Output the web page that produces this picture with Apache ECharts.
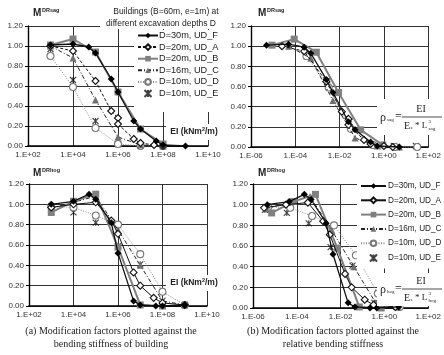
<!DOCTYPE html>
<html><head><meta charset="utf-8">
<script src="https://cdn.jsdelivr.net/npm/echarts@6/dist/echarts.min.js"></script>
<style>html,body{margin:0;padding:0;background:#fff}#c{width:444px;height:355px}</style>
</head><body><div id="c"></div>
<script>
// ---- data ----
const NAMES = ['D=30m, UD_F','D=20m, UD_A','D=20m, UD_B','D=16m, UD_C','D=10m, UD_D','D=10m, UD_E'];
const X_TICKS_EI = ['1.E+02','1.E+04','1.E+06','1.E+08','1.E+10'];
const X_TICKS_RHO = ['1.E-06','1.E-04','1.E-02','1.E+00','1.E+02'];
const Y_TICKS = ['0.00','0.20','0.40','0.60','0.80','1.00','1.20'];

// UD_F
const EI_F = [1e3,1e4,5e4,1e5,5e5,1e6,5e6,1e7,5e7,1e8,1e9];
const SAG_F = [1.01,1.02,0.99,0.93,0.67,0.54,0.25,0.17,0.05,0.01,0.00];
const HOG_F = [1.00,1.03,1.10,1.05,0.82,0.52,0.05,0.01,0.00,0.00,0.01];
const RHO_SAG_F = [5.0e-6,5.0e-5,2.5e-4,5.0e-4,2.5e-3,5.0e-3,2.5e-2,5.0e-2,0.25,0.5,5.0];
const RHO_HOG_F = [4.5e-6,4.5e-5,2.2e-4,4.5e-4,2.2e-3,4.5e-3,2.2e-2,4.5e-2,0.22,0.45,4.5];
// UD_A
const EI_SAG_A = [1e3,1e4,1e5,5e5,1e6,1e6,5e6,1e7,4e7,1e8];
const SAG_A = [1.00,0.95,0.65,0.35,0.28,0.22,0.07,0.03,0.01,0.00];
const RHO_SAG_A = [2.5e-5,2.5e-4,2.5e-3,1.26e-2,2.5e-2,2.5e-2,0.126,0.25,1.0,2.5];
const EI_HOG_A = [1e3,1e4,1e5,5e5,1e6,5e6,1e7,4e7,1e8,1e9];
const HOG_A = [0.97,1.00,1.02,0.84,0.71,0.33,0.20,0.08,0.03,0.01];
const RHO_HOG_A = [3.2e-6,3.2e-5,3.2e-4,1.6e-3,3.2e-3,1.6e-2,3.2e-2,0.126,0.32,3.2];
// UD_B
const EI_B = [1e3,1e4,1e5,1e6,1e7,1e8];
const SAG_B = [1.01,1.07,0.94,0.54,0.17,0.02];
const HOG_B = [0.92,1.03,1.10,0.58,0.01,0.00];
const RHO_SAG_B = [8.9e-6,8.9e-5,8.9e-4,8.9e-3,8.9e-2,0.89];
const RHO_HOG_B = [7.1e-6,7.1e-5,7.1e-4,7.1e-3,7.1e-2,0.71];
// UD_C
const EI_SAG_C = [1e3,1e4,1e5,1e6,1e7,1e8];
const SAG_C = [1.00,0.88,0.46,0.09,0.01,0.00];
const RHO_SAG_C = [5.0e-5,5.0e-4,5.0e-3,5.0e-2,0.5,5.0];
const EI_HOG_C = [1e3,1e4,1e5,1e6,1e7,1e8,1e9];
const HOG_C = [0.96,1.02,1.08,0.75,0.40,0.05,0.01];
const RHO_HOG_C = [4.0e-6,4.0e-5,4.0e-4,4.0e-3,4.0e-2,0.4,4.0];
// UD_D
const EI_SAG_D = [1e3,1e4,1e5,1e6,1e7,1e8];
const SAG_D = [0.90,0.59,0.18,0.02,0.00,0.00];
const RHO_SAG_D = [3.2e-4,3.2e-3,3.2e-2,0.32,3.2,32];
const EI_HOG_D = [1e3,1e4,1e5,1e6,1e7,1e8,1e9];
const HOG_D = [0.98,0.97,0.89,0.80,0.51,0.14,0.01];
const RHO_HOG_D = [5.0e-6,5.0e-5,5.0e-4,5.0e-3,5.0e-2,0.5,5.0];
// UD_E
const EI_SAG_E = [1e3,1e4,1e5,1e6,1e7,1e8];
const SAG_E = [0.97,0.66,0.25,0.02,0.01,0.01];
const RHO_SAG_E = [2.8e-4,2.8e-3,2.8e-2,0.28,2.8,28];
const EI_HOG_E = [1e3,1e4,1e5,1e6,1e7,1e8,1e9];
const HOG_E = [0.95,0.92,0.82,0.59,0.41,0.05,0.01];
const RHO_HOG_E = [3.5e-6,3.5e-5,3.5e-4,3.5e-3,3.5e-2,0.35,3.5];

// ---- build ----
const FONT = 'Liberation Sans, Arial, sans-serif';
const SERIF = 'Liberation Serif, Times New Roman, serif';
const zip = (xs, ys) => xs.map((x, i) => [x, ys[i]]);
const STAR = 'path://M0,0L10,10M10,0L0,10M5,0L5,10';

function styleFor(idx, bottom) {
  switch (idx) {
    case 0: return {type:'line', symbol:'diamond', symbolSize:7, lineStyle:{color:'#111', width:1.3},
                    itemStyle:{color:'#000', borderColor:'#000', borderWidth:0}};
    case 1: return {type:'line', symbol:'diamond', symbolSize:7, lineStyle:{color:'#111', width:1, type: bottom ? 'solid' : [3,2]},
                    itemStyle:{color:'#fff', borderColor:'#111', borderWidth:1.1}};
    case 2: return {type:'line', symbol:'rect', symbolSize:7, lineStyle:{color:'#808080', width:2},
                    itemStyle:{color:'#808080', borderColor:'#808080', borderWidth:0}};
    case 3: return {type:'line', symbol:'triangle', symbolSize:7, lineStyle:{color:'#222', width:1, type:[4,2,1,2]},
                    itemStyle:{color:'#707070', borderColor:'#707070', borderWidth:0}};
    case 4: return {type:'line', symbol:'circle', symbolSize:7, lineStyle:{color:'#888', width:1, type:[1,1.5]},
                    itemStyle:{color:'#fff', borderColor:'#777', borderWidth:1.1}};
    default: return {type:'scatter', symbol:STAR, symbolSize:6,
                    itemStyle:{color:'#000', borderColor:'#111', borderWidth:1.1}};
  }
}

const plots = [
  [zip(EI_F,SAG_F), zip(EI_SAG_A,SAG_A), zip(EI_B,SAG_B), zip(EI_SAG_C,SAG_C), zip(EI_SAG_D,SAG_D), zip(EI_SAG_E,SAG_E)],
  [zip(RHO_SAG_F,SAG_F), zip(RHO_SAG_A,SAG_A), zip(RHO_SAG_B,SAG_B), zip(RHO_SAG_C,SAG_C), zip(RHO_SAG_D,SAG_D), zip(RHO_SAG_E,SAG_E)],
  [zip(EI_F,HOG_F), zip(EI_HOG_A,HOG_A), zip(EI_B,HOG_B), zip(EI_HOG_C,HOG_C), zip(EI_HOG_D,HOG_D), zip(EI_HOG_E,HOG_E)],
  [zip(RHO_HOG_F,HOG_F), zip(RHO_HOG_A,HOG_A), zip(RHO_HOG_B,HOG_B), zip(RHO_HOG_C,HOG_C), zip(RHO_HOG_D,HOG_D), zip(RHO_HOG_E,HOG_E)]
];

const series = [];
plots.forEach((arr, g) => {
  arr.forEach((data, i) => {
    series.push(Object.assign({name: NAMES[i], xAxisIndex: g, yAxisIndex: g, data, z: 3 + (5 - i),
      animation:false, silent:true, clip:false}, styleFor(i, g >= 2)));
  });
});

const grids = [
  {left:28, top:26, width:180, height:120},
  {left:251, top:26, width:183, height:121},
  {left:29, top:184, width:178, height:122},
  {left:253, top:184, width:180, height:124}
];

function xLab(v) {
  const e = Math.round(Math.log10(v));
  const s = e < 0 ? '-' : '+';
  const a = Math.abs(e);
  return '1.E' + s + (a < 10 ? '0' + a : '' + a);
}

const xAxes = grids.map((g, i) => {
  const rho = (i % 2 === 1);
  const ticks = rho ? X_TICKS_RHO : X_TICKS_EI;
  return {
    type:'log', logBase:10, gridIndex:i,
    min: rho ? 1e-6 : 1e2, max: rho ? 1e2 : 1e10, splitNumber:4, interval:2,
    axisLine:{show:true, onZero:false, lineStyle:{color:'#000', width:1.6}},
    axisTick:{show:false},
    minorTick:{show:false},
    splitLine:{show:true, lineStyle:{color:'#333', width:1}},
    axisLabel:{fontSize:8, color:'#333', fontFamily:FONT, margin:5, showMaxLabel:true, showMinLabel:true,
      formatter: v => { const t = xLab(v); return ticks.indexOf(t) >= 0 ? t : ''; }}
  };
});

const yAxes = grids.map((g, i) => ({
  type:'value', gridIndex:i, min:0, max:1.2, interval:0.2,
  axisLine:{show:true, lineStyle:{color:'#000', width:1.4}},
  axisTick:{show:true, length:3, lineStyle:{color:'#000'}},
  splitLine:{show:true, lineStyle:{color:'#333', width:1}},
  axisLabel:{fontSize:8, color:'#333', fontFamily:FONT, margin:5,
    formatter: v => Y_TICKS[Math.round(v / 0.2)]}
}));

const T = (x, y, text, st) => ({type:'text', x, y, z:50, style:Object.assign({text, fill:'#222', font:'9px ' + FONT}, st)});

const graphic = [
  T(33, 13, 'M', {font:'bold 10px ' + FONT, textVerticalAlign:'middle'}),
  T(42, 10, 'DRsag', {font:'bold 5.5px ' + FONT, textVerticalAlign:'middle'}),
  T(258, 13, 'M', {font:'bold 10px ' + FONT, textVerticalAlign:'middle'}),
  T(267, 10, 'DRsag', {font:'bold 5.5px ' + FONT, textVerticalAlign:'middle'}),
  T(33, 173, 'M', {font:'bold 10px ' + FONT, textVerticalAlign:'middle'}),
  T(42, 170, 'DRhog', {font:'bold 5.5px ' + FONT, textVerticalAlign:'middle'}),
  T(258, 173, 'M', {font:'bold 10px ' + FONT, textVerticalAlign:'middle'}),
  T(267, 170, 'DRhog', {font:'bold 5.5px ' + FONT, textVerticalAlign:'middle'}),
  {type:'rect', z:40, shape:{x:100, y:4, width:122, height:25}, style:{fill:'#fff'}},
  T(166, 12, 'Buildings (B=60m, e=1m) at', {font:'8.5px ' + FONT, textAlign:'center', textVerticalAlign:'middle'}),
  T(161, 24, 'different excavation depths D', {font:'8.5px ' + FONT, textAlign:'center', textVerticalAlign:'middle'}),
  {type:'rect', z:40, shape:{x:166, y:124, width:56, height:16}, style:{fill:'#fff'}},
  {type:'rect', z:40, shape:{x:166, y:275, width:56, height:16}, style:{fill:'#fff'}},
  {type:'rect', z:40, shape:{x:377, y:99, width:67, height:36}, style:{fill:'#fff'}},
  {type:'rect', z:40, shape:{x:377, y:273, width:67, height:33}, style:{fill:'#fff'}},
  T(111, 331, '(a) Modification factors plotted against the', {font:'10px ' + SERIF, textAlign:'center', textVerticalAlign:'middle'}),
  T(111, 344, 'bending stiffness of building', {font:'10px ' + SERIF, textAlign:'center', textVerticalAlign:'middle'}),
  T(333, 331, '(b) Modification factors plotted against the', {font:'10px ' + SERIF, textAlign:'center', textVerticalAlign:'middle'}),
  T(333, 344, 'relative bending stiffness', {font:'10px ' + SERIF, textAlign:'center', textVerticalAlign:'middle'})
];
function eiLabel(cy) {
  graphic.push({type:'text', x:194, y:cy, z:50, style:{
    text:'{a|EI (kNm}{b|2}{a|/m)}', textAlign:'center', textVerticalAlign:'middle',
    rich:{a:{fontSize:8.5, fontWeight:'bold', fontFamily:FONT, fill:'#222', lineHeight:11},
          b:{fontSize:5.5, fontWeight:'bold', fontFamily:FONT, fill:'#222', lineHeight:6, verticalAlign:'top'}}}});
}
eiLabel(132); eiLabel(283);
function formula(cy, sub) {
  graphic.push(T(380, cy + 1, 'ρ', {font:'12px ' + SERIF, textVerticalAlign:'middle'}));
  graphic.push(T(387, cy + 3, sub, {font:'5px ' + SERIF, textVerticalAlign:'middle'}));
  graphic.push(T(395, cy, '=', {font:'12px ' + SERIF, textVerticalAlign:'middle'}));
  graphic.push({type:'line', z:50, shape:{x1:402, y1:cy, x2:442, y2:cy}, style:{stroke:'#222', lineWidth:0.8}});
  graphic.push(T(421, cy - 8, 'EI', {font:'10px ' + SERIF, textAlign:'center', textVerticalAlign:'middle'}));
  graphic.push(T(404, cy + 9, 'E', {font:'10px ' + SERIF, textVerticalAlign:'middle'}));
  graphic.push(T(410.5, cy + 11, 's', {font:'5px ' + SERIF, textVerticalAlign:'middle'}));
  graphic.push(T(415, cy + 9, '* L', {font:'9px ' + SERIF, textVerticalAlign:'middle'}));
  graphic.push(T(428.5, cy + 5, '3', {font:'5px ' + SERIF, textVerticalAlign:'middle'}));
  graphic.push(T(428.5, cy + 12, sub, {font:'5px ' + SERIF, textVerticalAlign:'middle'}));
}
formula(117, 'sag'); formula(289, 'hog');

const legendBottomData = NAMES.map((n, i) => i === 1 ? {name:n, lineStyle:{type:'solid'}} : {name:n});

const option = {
  backgroundColor:'#fff',
  animation:false,
  grid: grids,
  xAxis: xAxes,
  yAxis: yAxes,
  series,
  legend: [
    {data:NAMES, orient:'vertical', left:134, top:30, itemWidth:20, itemHeight:7, itemGap:2.6,
     backgroundColor:'#fff', padding:[1,2,14,3], selectedMode:false, z:45,
     textStyle:{fontSize:9.2, color:'#222', fontFamily:FONT, padding:[0,0,0,-4]}},
    {data:legendBottomData, orient:'vertical', left:357, top:180, itemWidth:25, itemHeight:7, itemGap:6.3,
     backgroundColor:'#fff', padding:[2,2,6,3], selectedMode:false, z:45,
     textStyle:{fontSize:8.2, color:'#222', fontFamily:FONT, padding:[0,0,0,-3]}}
  ],
  graphic
};
const chart = echarts.init(document.getElementById('c'), null, {renderer:'canvas'});
chart.setOption(option);
</script></body></html>
